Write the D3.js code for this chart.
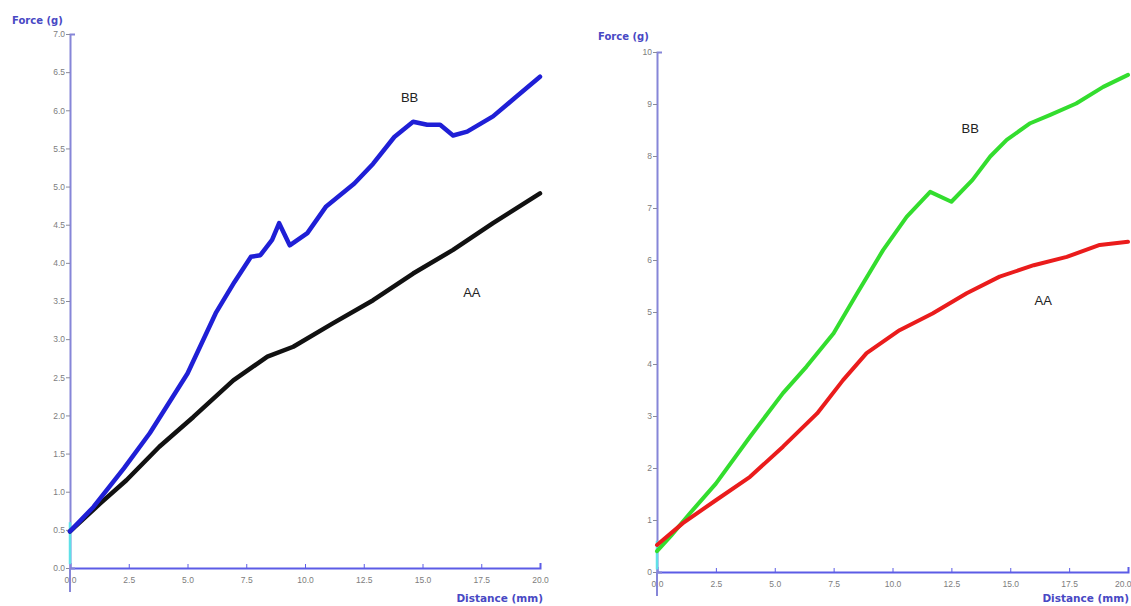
<!DOCTYPE html>
<html>
<head>
<meta charset="utf-8">
<script src="https://cdn.jsdelivr.net/npm/d3@7"></script>
<style>
  html, body { margin: 0; padding: 0; background: #fff; }
  svg { display: block; font-family: "DejaVu Sans", Verdana, sans-serif; }
</style>
</head>
<body>
<svg id="chart" width="1131" height="606"></svg>
<script>
// Texture analyser traces: force (g) against probe distance (mm)
const distTicks = [0, 2.5, 5, 7.5, 10, 12.5, 15, 17.5, 20];
const leftForceTicks = [0, 0.5, 1, 1.5, 2, 2.5, 3, 3.5, 4, 4.5, 5, 5.5, 6, 6.5, 7];
const rightForceTicks = [0, 1, 2, 3, 4, 5, 6, 7, 8, 9, 10];

// Left panel, sample BB
const leftBBDist  = [0, 1.0, 2.3, 3.4, 5.0, 6.2, 7.0, 7.7, 8.1, 8.6, 8.9, 9.35, 10.1, 10.9, 12.1, 12.9, 13.8, 14.6, 15.2, 15.75, 16.3, 16.9, 18.0, 19.0, 20.0];
const leftBBForce = [0.48, 0.80, 1.31, 1.77, 2.55, 3.34, 3.75, 4.08, 4.10, 4.30, 4.52, 4.23, 4.39, 4.74, 5.04, 5.30, 5.65, 5.85, 5.81, 5.81, 5.67, 5.72, 5.92, 6.18, 6.44];
// Left panel, sample AA
const leftAADist  = [0, 1.3, 2.4, 3.8, 5.25, 6.95, 8.4, 9.5, 11.2, 12.9, 14.6, 16.3, 18.0, 20.0];
const leftAAForce = [0.48, 0.85, 1.15, 1.59, 1.98, 2.46, 2.77, 2.90, 3.21, 3.51, 3.86, 4.17, 4.52, 4.91];

// Right panel, sample BB
const rightBBDist  = [0, 0.6, 1.4, 2.5, 3.95, 5.35, 6.35, 7.5, 8.5, 9.6, 10.6, 11.6, 12.5, 13.4, 14.15, 14.85, 15.85, 16.7, 17.8, 18.95, 20.0];
const rightBBForce = [0.40, 0.70, 1.13, 1.70, 2.60, 3.44, 3.95, 4.59, 5.36, 6.19, 6.83, 7.31, 7.12, 7.54, 7.99, 8.31, 8.63, 8.79, 9.01, 9.33, 9.56];
// Right panel, sample AA
const rightAADist  = [0, 1.1, 2.5, 3.95, 5.35, 6.8, 7.9, 8.9, 10.3, 11.7, 13.15, 14.55, 16.0, 17.4, 18.8, 20.0];
const rightAAForce = [0.52, 0.94, 1.38, 1.83, 2.41, 3.05, 3.69, 4.21, 4.65, 4.97, 5.36, 5.68, 5.90, 6.06, 6.29, 6.35];

// Curve labels, placed in data units
const leftLabels  = [{ text: "BB", d: 14.45, f: 6.15 }, { text: "AA", d: 17.1, f: 3.6 }];
const rightLabels = [{ text: "BB", d: 13.3, f: 8.5 }, { text: "AA", d: 16.4, f: 5.2 }];

const svg = d3.select("#chart");
const axisBlue = "#8686d8";
const baseBlue = "#5c5ce6";
const titleBlue = "#4848c4";
const tickGrey = "#7d7d7d";

function zip(ds, fs) { return ds.map((d, i) => ({ d, f: fs[i] })); }

function drawPanel(p) {
  const x = d3.scaleLinear().domain([0, 20]).range(p.xRange);
  const y = d3.scaleLinear().domain([0, p.yMax]).range(p.yRange);
  const g = svg.append("g");

  // x axis (ticks point up into the plot)
  const xAxis = g.append("g")
    .attr("transform", `translate(0,${y(0)})`)
    .call(d3.axisBottom(x).tickValues(distTicks).tickFormat(d3.format(".1f")).tickSize(-4).tickSizeOuter(-5));
  xAxis.select(".domain").attr("stroke", baseBlue).attr("stroke-width", 2);
  xAxis.selectAll(".tick line").attr("stroke", baseBlue).attr("stroke-width", 1);
  xAxis.selectAll(".tick text").attr("fill", tickGrey).attr("font-size", 8.5).attr("y", 9);
  // keep the last distance label inside the page
  xAxis.selectAll(".tick text").filter(v => x(v) + 10 > 1131)
    .attr("text-anchor", "end").attr("x", 1131 - x(20));

  // y axis
  const yAxis = g.append("g")
    .attr("transform", `translate(${x(0)},0)`)
    .call(d3.axisLeft(y).tickValues(p.yTicks).tickFormat(p.yFormat).tickSize(4).tickSizeOuter(-5));
  yAxis.select(".domain").attr("stroke", axisBlue).attr("stroke-width", 2);
  yAxis.selectAll(".tick line").attr("stroke", "#8a8a9a").attr("stroke-width", 1);
  yAxis.selectAll(".tick text").attr("fill", tickGrey).attr("font-size", 8.5).attr("x", -5);

  // y axis extends below the origin
  g.append("line")
    .attr("x1", x(0)).attr("x2", x(0))
    .attr("y1", y(0)).attr("y2", y(0) + 24)
    .attr("stroke", axisBlue).attr("stroke-width", 2);

  // axis titles
  g.append("text").attr("x", p.yTitle[0]).attr("y", p.yTitle[1])
    .attr("fill", titleBlue).attr("font-size", 10).attr("font-weight", "bold")
    .text("Force (g)");
  g.append("text").attr("x", Math.min(x(20) + 3, 1129)).attr("y", 602)
    .attr("text-anchor", "end")
    .attr("fill", titleBlue).attr("font-size", 10.5).attr("font-weight", "bold")
    .text("Distance (mm)");

  // start marker on the force axis
  g.append("line")
    .attr("x1", x(0)).attr("x2", x(0))
    .attr("y1", y(0.05)).attr("y2", y(0.6))
    .attr("stroke", "#5fe0e8").attr("stroke-width", 2.5);

  const line = d3.line().x(v => x(v.d)).y(v => y(v.f)).curve(d3.curveLinear);
  p.series.forEach(s => {
    g.append("path")
      .datum(zip(s.dist, s.force))
      .attr("fill", "none")
      .attr("stroke", s.color)
      .attr("stroke-width", s.width)
      .attr("stroke-linejoin", "round")
      .attr("stroke-linecap", "round")
      .attr("d", line);
  });

  p.labels.forEach(l => {
    g.append("text")
      .attr("x", x(l.d)).attr("y", y(l.f))
      .attr("text-anchor", "middle")
      .attr("dominant-baseline", "middle")
      .attr("fill", "#222")
      .attr("font-family", "Liberation Sans, Arial, sans-serif")
      .attr("font-size", 13)
      .text(l.text);
  });
}

drawPanel({
  xRange: [70, 540], yRange: [568, 34], yMax: 7,
  yTicks: leftForceTicks, yFormat: d3.format(".1f"),
  yTitle: [12, 24],
  series: [
    { dist: leftAADist, force: leftAAForce, color: "#111111", width: 4.5 },
    { dist: leftBBDist, force: leftBBForce, color: "#1f1fd6", width: 4.5 }
  ],
  labels: leftLabels
});

drawPanel({
  xRange: [657, 1128], yRange: [572, 52], yMax: 10,
  yTicks: rightForceTicks, yFormat: d3.format("d"),
  yTitle: [598, 40],
  series: [
    { dist: rightBBDist, force: rightBBForce, color: "#33dd2e", width: 4 },
    { dist: rightAADist, force: rightAAForce, color: "#ea1c1c", width: 4 }
  ],
  labels: rightLabels
});
</script>
</body>
</html>
